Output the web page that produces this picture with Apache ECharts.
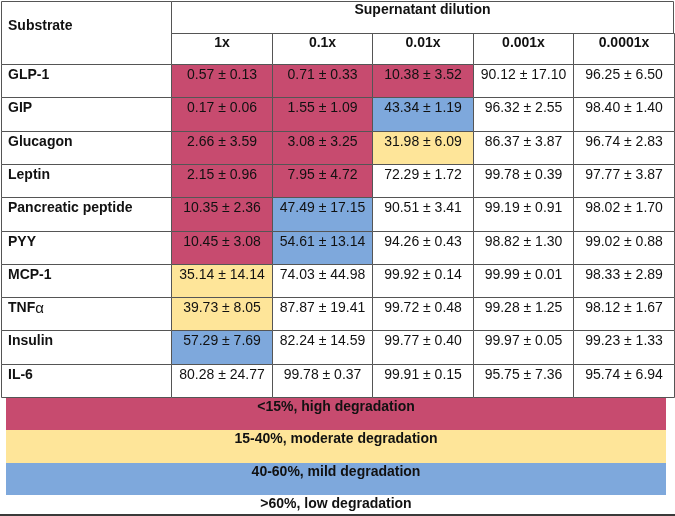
<!DOCTYPE html>
<html><head><meta charset="utf-8">
<script src="https://cdn.jsdelivr.net/npm/echarts@6/dist/echarts.min.js"></script>
<style>html,body{margin:0;padding:0;background:#fff}#c{width:675px;height:516px}</style>
</head><body><div id="c"></div>
<script>
// ---- data ----
const substrates = ['GLP-1','GIP','Glucagon','Leptin','Pancreatic peptide','PYY','MCP-1','TNFα','Insulin','IL-6'];
const dilutions = ['1x','0.1x','0.01x','0.001x','0.0001x'];
const meanGLP1 = [0.57, 0.71, 10.38, 90.12, 96.25];
const sdGLP1   = [0.13, 0.33, 3.52, 17.10, 6.50];
const meanGIP  = [0.17, 1.55, 43.34, 96.32, 98.40];
const sdGIP    = [0.06, 1.09, 1.19, 2.55, 1.40];
const meanGlucagon = [2.66, 3.08, 31.98, 86.37, 96.74];
const sdGlucagon   = [3.59, 3.25, 6.09, 3.87, 2.83];
const meanLeptin = [2.15, 7.95, 72.29, 99.78, 97.77];
const sdLeptin   = [0.96, 4.72, 1.72, 0.39, 3.87];
const meanPP = [10.35, 47.49, 90.51, 99.19, 98.02];
const sdPP   = [2.36, 17.15, 3.41, 0.91, 1.70];
const meanPYY = [10.45, 54.61, 94.26, 98.82, 99.02];
const sdPYY   = [3.08, 13.14, 0.43, 1.30, 0.88];
const meanMCP1 = [35.14, 74.03, 99.92, 99.99, 98.33];
const sdMCP1   = [14.14, 44.98, 0.14, 0.01, 2.89];
const meanTNFa = [39.73, 87.87, 99.72, 99.28, 98.12];
const sdTNFa   = [8.05, 19.41, 0.48, 1.25, 1.67];
const meanInsulin = [57.29, 82.24, 99.77, 99.97, 99.23];
const sdInsulin   = [7.69, 14.59, 0.40, 0.05, 1.33];
const meanIL6 = [80.28, 99.78, 99.91, 95.75, 95.74];
const sdIL6   = [24.77, 0.37, 0.15, 7.36, 6.94];
const meanRows = [meanGLP1, meanGIP, meanGlucagon, meanLeptin, meanPP, meanPYY, meanMCP1, meanTNFa, meanInsulin, meanIL6];
const sdRows   = [sdGLP1, sdGIP, sdGlucagon, sdLeptin, sdPP, sdPYY, sdMCP1, sdTNFa, sdInsulin, sdIL6];
const legendLabels = ['<15%, high degradation','15-40%, moderate degradation','40-60%, mild degradation','>60%, low degradation'];
const thresholds = [15, 40, 60];
const headerTitle = 'Supernatant dilution';
const firstColTitle = 'Substrate';

// ---- styles ----
const bandColors = ['#C74B6F','#FEE599','#7EA8DC','#FFFFFF'];
const FONT = '"Liberation Sans", Arial, Helvetica, sans-serif';
const LINE = '#555';
const TXT = '#111';

function colorFor(v){ for (let i=0;i<thresholds.length;i++) if (v < thresholds[i]) return bandColors[i]; return bandColors[3]; }

function cellBox(api){
  const c = api.coord([api.value(0), api.value(1)]);
  const s = api.size([1,1]);
  const x0 = Math.round(c[0]-s[0]/2), x1 = Math.round(c[0]+s[0]/2);
  const y0 = Math.round(c[1]-s[1]/2), y1 = Math.round(c[1]+s[1]/2);
  return {x0, x1, y0, y1};
}
function richName(name){
  return name.replace(/([α-ω])/g, '{g|$1}').replace(/^([^{]+)/, '{b|$1}');
}

const bodyData = [];
meanRows.forEach((row, r) => row.forEach((m, c) => bodyData.push([c, r, m, sdRows[r][c]])));
const nameData = substrates.map((n, r) => [0, r, n]);
const headData = dilutions.map((d, c) => [c, 0, d]);
const legendData = legendLabels.map((l, i) => [0, i, l]);

const hiddenCat = (data, inverse) => ({type:'category', data, show:false, inverse: !!inverse});

const chart = echarts.init(document.getElementById('c'), null, {renderer:'canvas'});
chart.setOption({
  animation: false,
  backgroundColor: '#fff',
  grid: [
    {left:171, top:64, width:503, height:333, outerBoundsMode:'none'},   // body
    {left:1, top:64, width:170, height:333, outerBoundsMode:'none'},     // names
    {left:171, top:33, width:503, height:31, outerBoundsMode:'none'},    // dilution header
    {left:6, top:398, width:660, height:129, outerBoundsMode:'none'}     // legend bands
  ],
  xAxis: [
    Object.assign(hiddenCat(dilutions), {gridIndex:0}),
    Object.assign(hiddenCat([firstColTitle]), {gridIndex:1}),
    Object.assign(hiddenCat(dilutions), {gridIndex:2}),
    Object.assign(hiddenCat(['legend']), {gridIndex:3})
  ],
  yAxis: [
    Object.assign(hiddenCat(substrates, true), {gridIndex:0}),
    Object.assign(hiddenCat(substrates, true), {gridIndex:1}),
    Object.assign(hiddenCat([headerTitle]), {gridIndex:2}),
    Object.assign(hiddenCat(legendLabels, true), {gridIndex:3})
  ],
  graphic: [
    {type:'rect', shape:{x:1.5, y:1.5, width:170, height:63}, style:{fill:'#fff', stroke:LINE, lineWidth:1}, z:10},
    {type:'text', x:8, y:26, style:{text:firstColTitle, font:'bold 14px '+FONT, fill:TXT, verticalAlign:'middle'}, z:11},
    {type:'rect', shape:{x:171.5, y:1.5, width:502, height:32}, style:{fill:'#fff', stroke:LINE, lineWidth:1}, z:10},
    {type:'text', x:422.5, y:10, style:{text:headerTitle, font:'bold 14px '+FONT, fill:TXT, align:'center', verticalAlign:'middle'}, z:11},
    {type:'rect', shape:{x:0, y:514, width:675, height:2}, style:{fill:'#3a3a3a'}, z:11}
  ],
  series: [
    {
      type:'custom', xAxisIndex:0, yAxisIndex:0, data: bodyData, silent:true, clip:false,
      encode:{x:0, y:1},
      renderItem(params, api){
        const b = cellBox(api);
        const m = api.value(2), sd = api.value(3);
        return {type:'group', children:[
          {type:'rect', shape:{x:b.x0+0.5, y:b.y0+0.5, width:b.x1-b.x0, height:b.y1-b.y0},
           style:{fill:colorFor(m), stroke:LINE, lineWidth:1}},
          {type:'text', x:(b.x0+b.x1)/2+0.5, y:b.y0+11.5,
           style:{text: m.toFixed(2)+' ± '+sd.toFixed(2), font:'14px '+FONT, fill:TXT, align:'center', verticalAlign:'middle'}}
        ]};
      }
    },
    {
      type:'custom', xAxisIndex:1, yAxisIndex:1, data: nameData, silent:true, clip:false,
      encode:{x:0, y:1},
      renderItem(params, api){
        const b = cellBox(api);
        const name = nameData[params.dataIndex][2];
        return {type:'group', children:[
          {type:'rect', shape:{x:b.x0+0.5, y:b.y0+0.5, width:b.x1-b.x0, height:b.y1-b.y0},
           style:{fill:'#fff', stroke:LINE, lineWidth:1}},
          {type:'text', x:b.x0+7, y:b.y0+11.5,
           style:{text: richName(name), fill:TXT, verticalAlign:'middle',
             rich:{b:{font:'bold 14px '+FONT, fill:TXT}, g:{font:'15px '+FONT, fill:TXT}}}}
        ]};
      }
    },
    {
      type:'custom', xAxisIndex:2, yAxisIndex:2, data: headData, silent:true, clip:false,
      encode:{x:0, y:1},
      renderItem(params, api){
        const b = cellBox(api);
        return {type:'group', children:[
          {type:'rect', shape:{x:b.x0+0.5, y:b.y0+0.5, width:b.x1-b.x0, height:b.y1-b.y0},
           style:{fill:'#fff', stroke:LINE, lineWidth:1}},
          {type:'text', x:(b.x0+b.x1)/2+0.5, y:b.y0+10,
           style:{text: headData[params.dataIndex][2], font:'bold 14px '+FONT, fill:TXT, align:'center', verticalAlign:'middle'}}
        ]};
      }
    },
    {
      type:'custom', xAxisIndex:3, yAxisIndex:3, data: legendData, silent:true, clip:false,
      encode:{x:0, y:1},
      renderItem(params, api){
        const b = cellBox(api);
        const i = params.dataIndex;
        return {type:'group', children:[
          {type:'rect', shape:{x:b.x0, y:b.y0, width:b.x1-b.x0, height:b.y1-b.y0},
           style:{fill:bandColors[i]}},
          {type:'text', x:(b.x0+b.x1)/2, y:b.y0+9.5,
           style:{text: legendData[i][2], font:'bold 14px '+FONT, fill:TXT, align:'center', verticalAlign:'middle'}}
        ]};
      }
    }
  ]
});
</script>
</body></html>
